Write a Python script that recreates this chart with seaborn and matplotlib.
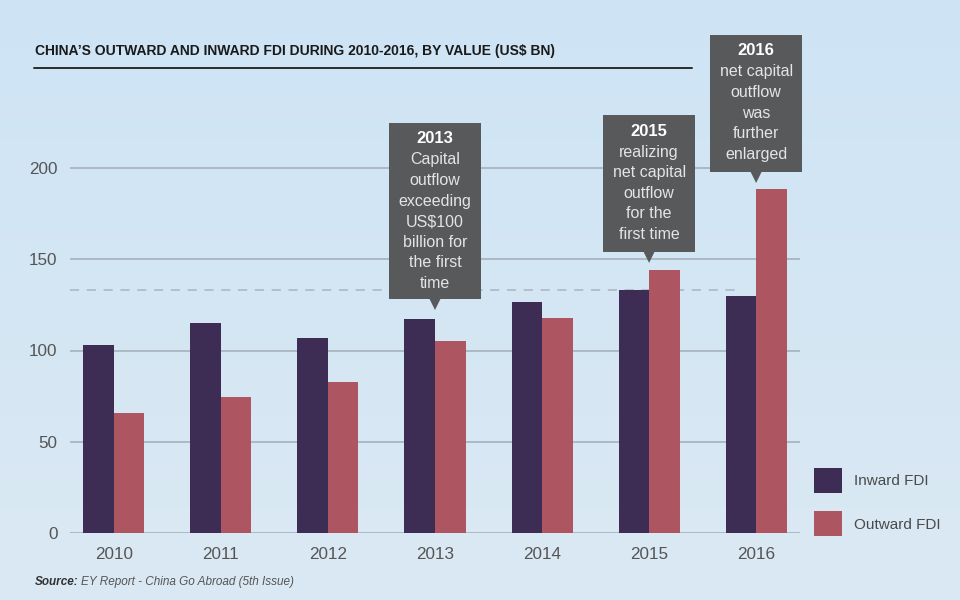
import matplotlib
matplotlib.use("Agg")
import matplotlib.pyplot as plt
from matplotlib.lines import Line2D
from matplotlib.patches import Rectangle, Polygon
from matplotlib.colors import LinearSegmentedColormap
import numpy as np
import pandas as pd
import seaborn as sns

# values (US$ bn)
years = ["2010", "2011", "2012", "2013", "2014", "2015", "2016"]
inward = [103, 115, 107, 117, 126.5, 133, 130]
outward = [66, 74.5, 83, 105, 118, 144, 188.5]
series = ["Inward FDI", "Outward FDI"]
colors = ["#3d2d55", "#ae5562"]
net_outflow_mark = 133  # dashed reference line (2015 inward level)

callout_years = ["2013", "2015", "2016"]
callout_lines = [
    ["Capital", "outflow", "exceeding", "US$100", "billion for", "the first", "time"],
    ["realizing", "net capital", "outflow", "for the", "first time"],
    ["net capital", "outflow", "was", "further", "enlarged"],
]
# box bottom / top and pointer tip, in data units
callout_box = [(128.2, 224.7, 122.2), (154.0, 229.0, 148.0), (197.8, 272.9, 191.8)]

title = "CHINA’S OUTWARD AND INWARD FDI DURING 2010-2016, BY VALUE (US$ BN)"

df = pd.DataFrame({
    "year": years * 2,
    "value": inward + outward,
    "flow": [series[0]] * len(years) + [series[1]] * len(years),
})

sns.set_theme(style="white")
plt.rcParams["font.family"] = ["Liberation Sans", "DejaVu Sans"]

fig = plt.figure(figsize=(9.6, 6), dpi=100)

# light blue backdrop
bg = fig.add_axes([0, 0, 1, 1], zorder=-10)
cmap = LinearSegmentedColormap.from_list("bg", ["#cee4f5", "#dbe9f3"])
bg.imshow(np.linspace(0, 1, 256).reshape(-1, 1), aspect="auto", cmap=cmap,
          extent=(0, 1, 0, 1))
bg.set_axis_off()

PX = 1.825  # pixels per US$ bn
ax = fig.add_axes([70 / 960, 67 / 600, 730 / 960, 473 / 600])
ax.patch.set_alpha(0)

sns.barplot(data=df, x="year", y="value", hue="flow", hue_order=series,
            palette=colors, width=0.57, saturation=1, edgecolor="none",
            ax=ax)

ax.set_xlim(-0.41, 6.41)
ax.set_ylim(0, 473 / PX)
ax.set_yticks([0, 50, 100, 150, 200])
ax.yaxis.grid(True, color="#a9b5bf", linewidth=1.3)
ax.set_axisbelow(True)
for s in ax.spines.values():
    s.set_visible(False)
ax.tick_params(axis="both", length=0, labelsize=12.3, labelcolor="#555555")
ax.tick_params(axis="y", pad=9)
ax.tick_params(axis="x", pad=10)
ax.set_xlabel("")
ax.set_ylabel("")

ax.hlines(net_outflow_mark, -0.41, 5.8, colors="#a9b5bf", linewidth=1.1,
          linestyles=(0, (6, 5)), zorder=0.5)

# callout boxes
box_c = "#58595b"
for i, yr in enumerate(callout_years):
    x = years.index(yr)
    lo, hi, tip = callout_box[i]
    ax.add_patch(Rectangle((x - 0.43, lo), 0.86, hi - lo, facecolor=box_c,
                           edgecolor="none", clip_on=False, zorder=5))
    ax.add_patch(Polygon([(x - 0.055, lo + 0.5), (x + 0.055, lo + 0.5), (x, tip)],
                         closed=True, facecolor=box_c, edgecolor="none",
                         clip_on=False, zorder=5))
    ax.text(x, hi - 16 / PX, yr, ha="center", va="center", color="white",
            fontsize=12, fontweight="bold", zorder=6, clip_on=False)
    for j, line in enumerate(callout_lines[i]):
        ax.text(x, hi - (37 + 20.6 * j) / PX, line, ha="center", va="center",
                color="#e4e4e4", fontsize=11.5, zorder=6, clip_on=False)

handles, labels = ax.get_legend_handles_labels()
ax.legend(handles, labels, loc="upper left", bbox_to_anchor=(814 / 960, 1 - 468 / 600),
          bbox_transform=fig.transFigure, frameon=False, fontsize=11,
          handlelength=1.85, handleheight=2.14, labelspacing=1.2,
          handletextpad=0.75, borderpad=0, borderaxespad=0,
          labelcolor="#4a4a4a")

# title and rule
fig.text(35 / 960, 1 - 51 / 600, title, ha="left", va="center",
         fontsize=10, fontweight="bold", color="#1a1a1a")
fig.add_artist(Line2D([34 / 960, 692 / 960], [1 - 68 / 600] * 2,
                      color="#2b2b2b", linewidth=1.4))

fig.text(35 / 960, 1 - 582 / 600, "Source:", ha="left", va="center",
         fontsize=8.5, fontweight="bold", fontstyle="italic", color="#333333")
fig.text(81 / 960, 1 - 582 / 600, "EY Report - China Go Abroad (5th Issue)",
         ha="left", va="center", fontsize=8.5, fontstyle="italic", color="#555555")

fig.savefig("out.png", dpi=100)
